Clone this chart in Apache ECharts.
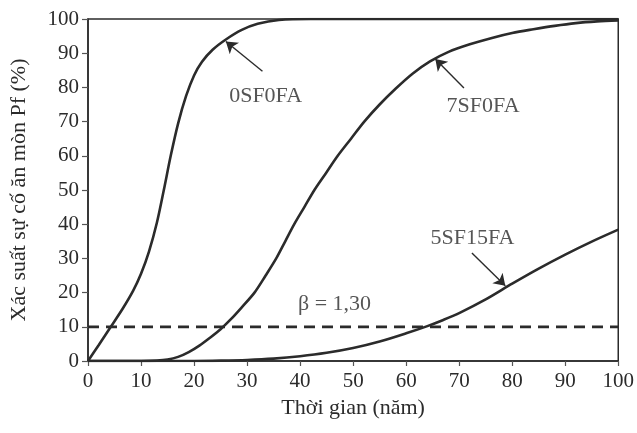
<!DOCTYPE html>
<html>
<head>
<meta charset="utf-8">
<script src="https://cdn.jsdelivr.net/npm/echarts@6/dist/echarts.min.js"></script>
<style>
html,body{margin:0;padding:0;background:#fff;}
#main{width:637px;height:433px;}
</style>
</head>
<body>
<div id="main"></div>
<script>
// Data
var xTicks = [0,10,20,30,40,50,60,70,80,90,100];
var yTicks = [0,10,20,30,40,50,60,70,80,90,100];

var s0SF0FA = [[0,0],[2,4.6],[4.3,10],[6.5,15.2],[8.5,20.5],[10,25.5],[11.5,32],[13,40.5],[14.3,50],[15.6,60],[17,69.5],[18.5,77.5],[20,83.5],[21.5,87.5],[23.5,91],[26,94],[29,96.8],[32,98.6],[36,99.7],[42,100],[50,100],[60,100],[70,100],[80,100],[90,100],[100,100]];
var s7SF0FA = [[0,0],[5,0],[10,0],[13,0.1],[15,0.4],[17,1.2],[19,2.6],[21,4.5],[23,6.8],[25,9.3],[27,12.3],[29,15.7],[31.4,20],[33.5,25],[35.5,30],[37.2,35],[38.9,40],[40.8,45],[42.7,50],[44.9,55],[47.1,60],[49.6,65],[52.1,70],[55,75],[58,79.6],[61.2,84],[64.5,87.6],[68,90.4],[72,92.6],[76,94.4],[80,95.9],[84,97],[88,98],[92,98.8],[96,99.3],[100,99.6]];
var s5SF15FA = [[0,0],[10,0],[20,0],[25,0.1],[30,0.3],[35,0.7],[40,1.4],[45,2.4],[50,3.8],[55,5.7],[60,8.1],[64,10.2],[67,12],[70,14],[75,18],[80,22.6],[85,27],[90,31.1],[95,34.9],[100,38.4]];
var betaLine = [[0,10],[100,10]];

var labelTexts = ['0SF0FA','7SF0FA','5SF15FA','β = 1,30'];
var labelPos = [[33.5,77.5],[74.5,74.5],[72.5,36],[46.5,16.5]];
var arrows = [
  [[32.9,84.7],[26.0,93.4]],
  [[70.9,79.8],[65.5,88.3]],
  [[72.4,31.6],[78.7,22.0]]
];

var FONT = 'Liberation Serif';
var INK = '#2b2b2b';

var chart = echarts.init(document.getElementById('main'), null, {renderer:'canvas'});
var curveStyle = {color: INK, width: 2.6};
chart.setOption({
  animation: false,
  backgroundColor: '#ffffff',
  grid: {left: 88, right: 18, top: 19, bottom: 72, show: true, borderColor: INK, borderWidth: 1.5, backgroundColor: 'transparent'},
  xAxis: {
    type: 'value', min: 0, max: 100, interval: 10,
    name: 'Thời gian (năm)', nameLocation: 'middle', nameGap: 35,
    nameTextStyle: {fontFamily: FONT, fontSize: 22, color: INK},
    axisLine: {show: true, lineStyle: {color: INK, width: 1.5}},
    axisTick: {show: true, inside: false, length: 5, lineStyle: {color: '#555', width: 1.2}},
    axisLabel: {fontFamily: FONT, fontSize: 21, color: INK, margin: 10,
      formatter: function(v){ return xTicks.indexOf(v) >= 0 ? String(v) : ''; }},
    splitLine: {show: false}
  },
  yAxis: {
    type: 'value', min: 0, max: 100, interval: 10,
    name: 'Xác suất sự cố ăn mòn Pf (%)', nameLocation: 'middle', nameGap: 58,
    nameTextStyle: {fontFamily: FONT, fontSize: 22, color: INK},
    axisLine: {show: true, lineStyle: {color: INK, width: 1.5}},
    axisTick: {show: true, inside: false, length: 6, lineStyle: {color: '#555', width: 1.2}},
    axisLabel: {fontFamily: FONT, fontSize: 21, color: INK, margin: 9,
      formatter: function(v){ return yTicks.indexOf(v) >= 0 ? String(v) : ''; }},
    splitLine: {show: false}
  },
  series: [
    {type: 'line', name: '0SF0FA', data: s0SF0FA, smooth: 0.3, showSymbol: false, lineStyle: curveStyle, z: 3},
    {type: 'line', name: '7SF0FA', data: s7SF0FA, smooth: 0.3, showSymbol: false, lineStyle: curveStyle, z: 3},
    {type: 'line', name: '5SF15FA', data: s5SF15FA, smooth: 0.3, showSymbol: false, lineStyle: curveStyle, z: 3},
    {type: 'line', name: 'beta', data: betaLine, showSymbol: false, lineStyle: {color: INK, width: 2.8, type: [11, 7]}, z: 2},
    {type: 'lines', coordinateSystem: 'cartesian2d', symbol: ['none','arrow'], symbolSize: 11,
      lineStyle: {color: INK, width: 1.4, opacity: 1},
      data: arrows.map(function(a){ return {coords: a}; }), z: 4},
    {type: 'scatter', symbolSize: 0, silent: true,
      data: labelPos.map(function(p, i){ return {value: p, name: labelTexts[i]}; }),
      label: {show: true, position: 'inside', formatter: function(p){ return p.name; },
        fontFamily: FONT, fontSize: 22, color: INK}, z: 5}
  ]
});
</script>
</body>
</html>
